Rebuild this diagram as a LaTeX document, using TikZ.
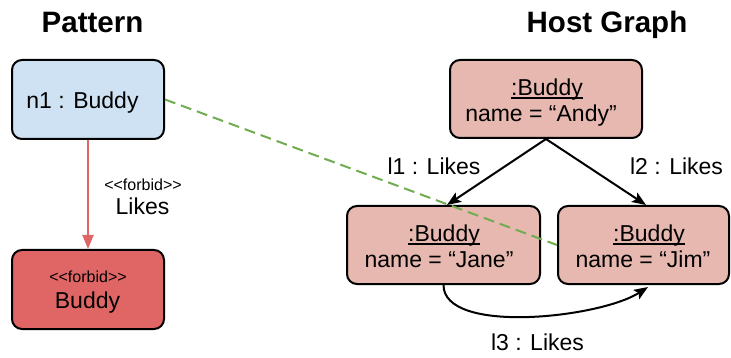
\documentclass[tikz,border=0pt]{standalone}
\usepackage{fontspec}
\setmainfont{Liberation Sans}[Ligatures=NoCommon]
\usetikzlibrary{arrows.meta}
\definecolor{nblue}{HTML}{CFE2F3}
\definecolor{nred}{HTML}{E06666}
\definecolor{npink}{HTML}{E6B8AF}
\definecolor{ngreen}{RGB}{112,172,82}
\newlength\ulw
\newcommand\myul[1]{\settowidth\ulw{#1}\rlap{\rule[-2.6pt]{\ulw}{1.4pt}}#1}
\newcommand\forbidtxt{{<}{<}forbid{>}{>}}
\tikzset{
  box/.style={draw=black, line width=2pt, rounded corners=10pt, inner sep=0pt},
  txt/.style={anchor=base, inner sep=0pt, font=\fontsize{23}{27}\selectfont},
  small/.style={anchor=base, inner sep=0pt, font=\fontsize{16}{19}\selectfont},
  ttl/.style={anchor=base, inner sep=0pt, font=\bfseries\fontsize{29.5}{35}\selectfont},
  arr/.style={line width=2pt, -{Stealth[length=14pt,width=11pt,inset=3pt]}},
}
\begin{document}
\begin{tikzpicture}[x=1pt,y=-1pt]
\useasboundingbox (0,0) rectangle (731,358);
% titles
\node[ttl] (tp) at (92.5,33) {Pattern};
\node[ttl] (th) at (607,33) {Host Graph};
% pattern boxes
\node[box, fill=nblue, minimum width=152pt, minimum height=79pt] (n1) at (88,99.5) {};
\node[box, fill=nred, minimum width=152pt, minimum height=79pt] (fb) at (88,289.5) {};
% host boxes
\node[box, fill=npink, minimum width=192pt, minimum height=78pt] (andy) at (546,99) {};
\node[box, fill=npink, minimum width=193pt, minimum height=78pt] (jane) at (443.5,245) {};
\node[box, fill=npink, minimum width=171pt, minimum height=78pt] (jim) at (643.5,245) {};
% texts
\node[txt] (n1t) at (82.5,109) {n1 : Buddy};
\node[small] (fbt1) at (88,282) {\forbidtxt};
\node[txt] (fbt2) at (87.5,308) {Buddy};
\node[txt] (andyt1) at (547,96) {\myul{:Buddy}};
\node[txt] (andyt2) at (541,122) {name = “Andy”};
\node[txt] (janet1) at (444,242) {\myul{:Buddy}};
\node[txt] (janet2) at (439,268) {name = “Jane”};
\node[txt] (jimt1) at (649,242) {\myul{:Buddy}};
\node[txt] (jimt2) at (643,268) {name = “Jim”};
% forbidden edge
\draw[line width=2pt, draw=nred, -{Triangle[length=14pt,width=11pt,fill=nred]}] (n1.south) -- (fb.north);
\node[small] (fl1) at (143,191) {\forbidtxt};
\node[txt] (fl2) at (142.5,215) {Likes};
% host edges
\draw[arr] (andy.south) -- ([xshift=3.5pt]jane.north);
\draw[arr] (andy.south) -- ([xshift=2.5pt]jim.north);
\draw[arr] (jane.south) .. controls +(0,50) and +(-48,31) .. ([xshift=4.5pt,yshift=-2pt]jim.south);
\node[txt] (l1) at (434,175) {l1 : Likes};
\node[txt] (l2) at (676.5,175) {l2 : Likes};
\node[txt] (l3) at (537.5,350) {l3 : Likes};
% morphism
\draw[draw=ngreen, line width=2pt, dash pattern=on 11pt off 6pt] (n1.east) -- (jim.west);
\end{tikzpicture}
\end{document}
